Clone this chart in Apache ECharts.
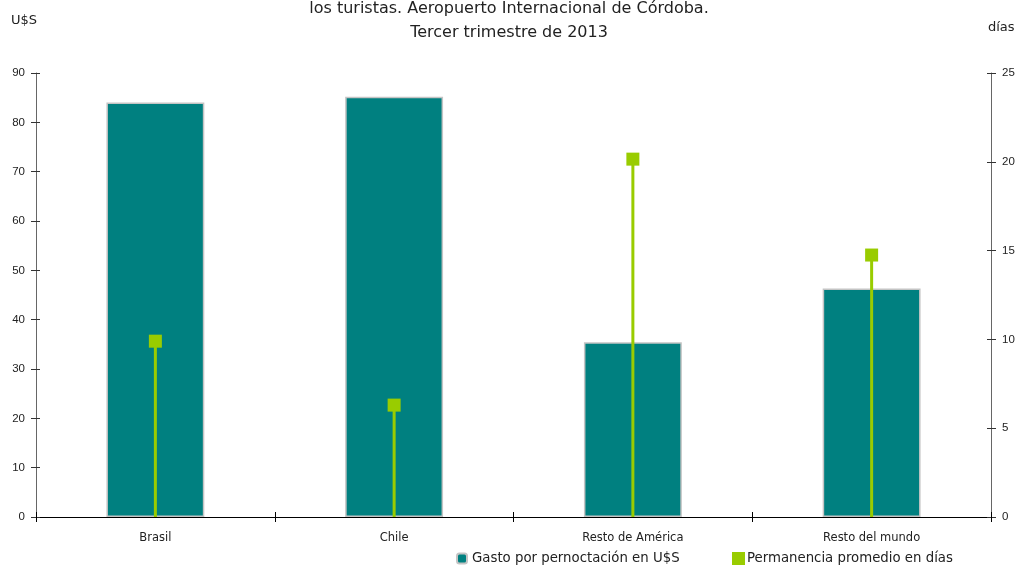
<!DOCTYPE html>
<html><head><meta charset="utf-8">
<script src="https://cdn.jsdelivr.net/npm/echarts@6/dist/echarts.min.js"></script>
<style>html,body{margin:0;padding:0;background:#fff}#c{width:1018px;height:565px}</style>
</head><body><div id="c"></div>
<script>
const categories = ['Brasil', 'Chile', 'Resto de América', 'Resto del mundo'];
const gasto = [84.0, 85.2, 35.4, 46.3];
const permanencia = [9.9, 6.3, 20.15, 14.75];
const leftTicks = {min: 0, max: 90, interval: 10};
const rightTicks = {min: 0, max: 25, interval: 5};
const gastoName = 'Gasto por pernoctación en U$S';
const permName = 'Permanencia promedio en días';

const chart = echarts.init(document.getElementById('c'));
const tickLbl = {fontFamily: 'Liberation Sans', fontSize: 11.5, color: '#222'};
chart.setOption({
  animation: false,
  title: {
    text: 'los turistas. Aeropuerto Internacional de Córdoba.\nTercer trimestre de 2013',
    left: 'center', top: -8,
    textStyle: {fontFamily: 'DejaVu Sans', fontSize: 16, fontWeight: 'normal', color: '#222', lineHeight: 24}
  },
  graphic: [
    {type: 'text', left: 11, top: 14, style: {text: 'U$S', font: '13px "DejaVu Sans"', fill: '#222'}},
    {type: 'text', left: 988, top: 21, style: {text: 'días', font: '13px "DejaVu Sans"', fill: '#222'}}
  ],
  legend: [
    {data: [gastoName], left: 451, top: 547, itemWidth: 10, itemHeight: 10, itemGap: 6,
     textStyle: {fontFamily: 'DejaVu Sans', fontSize: 13.3, color: '#222'}},
    {data: [permName], left: 727, top: 547, itemWidth: 13, itemHeight: 13, itemGap: 4,
     textStyle: {fontFamily: 'DejaVu Sans', fontSize: 13.3, color: '#222', padding: [0, 0, 0, -3]}}
  ],
  grid: {left: 36, right: 27, top: 73, bottom: 48},
  xAxis: [
    {type: 'category', data: categories, boundaryGap: true,
     axisLine: {lineStyle: {color: '#000', width: 1}},
     axisTick: {show: true, length: 5, lineStyle: {color: '#000'}},
     axisLabel: {margin: 15, fontFamily: 'DejaVu Sans', fontSize: 11.5, color: '#222'}},
    {type: 'category', data: categories, boundaryGap: true, position: 'bottom',
     axisLine: {show: false},
     axisTick: {show: true, inside: true, length: 5, lineStyle: {color: '#000'}},
     axisLabel: {show: false}}
  ],
  yAxis: [
    {type: 'value', min: leftTicks.min, max: leftTicks.max, interval: leftTicks.interval, position: 'left',
     axisLine: {show: true, lineStyle: {color: '#666'}},
     axisTick: {show: true, length: 5, lineStyle: {color: '#333'}},
     axisLabel: Object.assign({margin: 11}, tickLbl),
     splitLine: {show: false}},
    {type: 'value', min: rightTicks.min, max: rightTicks.max, interval: rightTicks.interval, position: 'right',
     axisLine: {show: true, lineStyle: {color: '#666'}},
     axisTick: {show: true, length: 5, lineStyle: {color: '#333'}},
     axisLabel: Object.assign({margin: 11}, tickLbl),
     splitLine: {show: false}},
    {type: 'value', min: leftTicks.min, max: leftTicks.max, interval: leftTicks.interval, position: 'left',
     axisLine: {show: false}, axisTick: {show: true, inside: true, length: 4, lineStyle: {color: '#333'}},
     axisLabel: {show: false}, splitLine: {show: false}},
    {type: 'value', min: rightTicks.min, max: rightTicks.max, interval: rightTicks.interval, position: 'right',
     axisLine: {show: false}, axisTick: {show: true, inside: true, length: 4, lineStyle: {color: '#333'}},
     axisLabel: {show: false}, splitLine: {show: false}}
  ],
  series: [
    {name: gastoName, type: 'bar', xAxisIndex: 0, yAxisIndex: 0, data: gasto, barWidth: '41%',
     itemStyle: {color: '#008080', borderColor: '#c4c4c4', borderWidth: 1.5}},
    {name: 'stem', type: 'bar', xAxisIndex: 1, yAxisIndex: 1, data: permanencia, barWidth: 3,
     itemStyle: {color: '#99cc00'}, z: 3},
    {name: permName, type: 'scatter', xAxisIndex: 1, yAxisIndex: 1, data: permanencia,
     symbol: 'rect', symbolSize: 13, itemStyle: {color: '#99cc00', opacity: 1}, z: 4}
  ]
});
</script></body></html>
